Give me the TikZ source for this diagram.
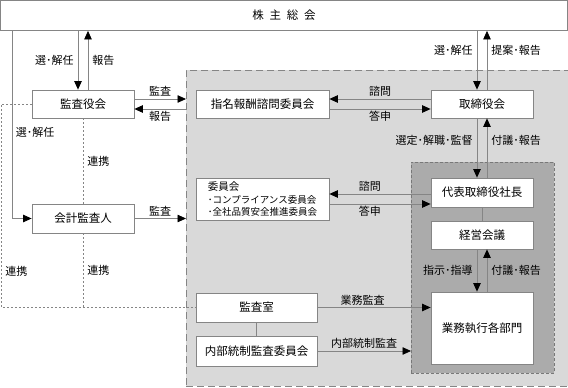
\documentclass[tikz,border=0pt]{standalone}
\usepackage{fontspec}
\setmainfont{Noto Sans CJK JP}
\usetikzlibrary{arrows.meta,positioning}
\definecolor{boxline}{HTML}{858585}
\definecolor{panelgray}{HTML}{D9D9D9}
\definecolor{execgray}{HTML}{ABABAB}
\tikzset{
  org box/.style={draw=boxline,fill=white,line width=.8pt,inner sep=1pt,font=\fontsize{11.5}{13}\selectfont},
  org line/.style={draw=boxline,line width=.8pt},
  org arrow/.style={org line,-{Triangle[length=8.5pt,width=7.5pt,color=black]}},
  org link/.style={draw=boxline,line width=.6pt,dash pattern=on 2pt off 2pt},
  org label/.style={font=\fontsize{11}{12}\selectfont,inner sep=1pt},
  panel/.style={draw=boxline,line width=.8pt,dash pattern=on 7pt off 4pt},
  subpanel/.style={draw=boxline!90!black,line width=.7pt,dash pattern=on 3pt off 2pt}
}

\begin{document}
\begin{tikzpicture}[x=1pt,y=-1pt,line cap=butt,line join=miter]
  \useasboundingbox (0,0) rectangle (568,388);

  % shaded areas
  \node[panel,fill=panelgray,anchor=north west,minimum width=392,minimum height=316] (governance) at (186,70) {};
  \node[subpanel,fill=execgray,anchor=north west,minimum width=143,minimum height=211] (executive) at (411,162) {};

  % boxes
  \node[org box,minimum width=567,minimum height=30] (meeting)     at (284,15.5)  {株\enspace 主\enspace 総\enspace 会};
  \node[org box,minimum width=102,minimum height=28] (auditboard)  at (83,104)    {監査役会};
  \node[org box,minimum width=102,minimum height=29] (accountant)  at (83,218.5)  {会計監査人};
  \node[org box,minimum width=133,minimum height=28] (nomcomm)     at (262.5,104) {指名報酬諮問委員会};
  \node[org box,minimum width=133,minimum height=42,align=left,font=\fontsize{9.5}{12.5}\selectfont]
                                                     (committees)  at (262.5,199)
        {{\fontsize{10.5}{12.5}\selectfont 委員会}\\･コンプライアンス委員会\\･全社品質安全推進委員会};
  \node[org box,minimum width=102,minimum height=28] (directors)   at (482,104)   {取締役会};
  \node[org box,minimum width=102,minimum height=29] (president)   at (482,192.5) {代表取締役社長};
  \node[org box,minimum width=102,minimum height=28] (mgmtmtg)     at (482,235)   {経営会議};
  \node[org box,minimum width=102,minimum height=72] (divisions)   at (482,328)   {業務執行各部門};
  \node[org box,minimum width=121,minimum height=29] (auditoffice) at (256.5,307.5) {監査室};
  \node[org box,minimum width=121,minimum height=30] (icaudit)     at (256.5,351) {内部統制監査委員会};

  \coordinate (edge) at (1,0);

  % shareholders' meeting
  \draw[org arrow] ([xshift=-5]auditboard.north |- meeting.south) -- ([xshift=-5]auditboard.north)
        node[org label,midway,left=3pt] {選･解任};
  \draw[org arrow] ([xshift=5]auditboard.north) -- ([xshift=5]auditboard.north |- meeting.south)
        node[org label,midway,right=3pt] {報告};
  \draw[org arrow] ([xshift=-5]directors.north |- meeting.south) -- ([xshift=-5]directors.north)
        node[org label,pos=.33,left=3pt] {選･解任};
  \draw[org arrow] ([xshift=5]directors.north) -- ([xshift=5]directors.north |- meeting.south)
        node[org label,pos=.67,right=3pt] {提案･報告};
  \draw[org arrow] ([xshift=-19]accountant.west |- meeting.south) |- (accountant.west)
        node[org label,pos=.27,right=2pt] {選･解任};

  % auditors
  \draw[org arrow] ([yshift=5]auditboard.east) -- ([yshift=5]auditboard.east -| governance.west)
        node[org label,midway,above=1pt] {監査};
  \draw[org arrow] ([yshift=-5]auditboard.east -| governance.west) -- ([yshift=-5]auditboard.east)
        node[org label,midway,below=1pt] {報告};
  \draw[org arrow] (accountant.east) -- (accountant.east -| governance.west)
        node[org label,midway,above=1pt] {監査};

  % board
  \draw[org arrow] ([yshift=5]directors.west) -- ([yshift=5]nomcomm.east)
        node[org label,midway,above=1pt] {諮問};
  \draw[org arrow] ([yshift=-5]nomcomm.east) -- ([yshift=-5]directors.west)
        node[org label,midway,below=1pt] {答申};
  \draw[org arrow] ([xshift=-5]directors.south) -- ([xshift=-5]president.north)
        node[org label,pos=.37,left=3pt] {選定･解職･監督};
  \draw[org arrow] ([xshift=5]president.north) -- ([xshift=5]directors.south)
        node[org label,pos=.63,right=3pt] {付議･報告};

  % president
  \draw[org arrow] ([yshift=5]committees.east -| president.west) -- ([yshift=5]committees.east)
        node[org label,pos=.6,above=1pt] {諮問};
  \draw[org arrow] ([yshift=-5]committees.east) -- ([yshift=-5]committees.east -| president.west)
        node[org label,pos=.4,below=1pt] {答申};
  \draw[org line] (president) -- (mgmtmtg);
  \draw[org arrow] ([xshift=-5]mgmtmtg.south) -- ([xshift=-5]divisions.north)
        node[org label,midway,left=3pt] {指示･指導};
  \draw[org arrow] ([xshift=5]divisions.north) -- ([xshift=5]mgmtmtg.south)
        node[org label,midway,right=3pt] {付議･報告};

  % internal audit
  \draw[org line] (auditoffice) -- (icaudit);
  \draw[org arrow] (auditoffice.east) -- (auditoffice.east -| divisions.west)
        node[org label,pos=.4,above=1pt] {業務監査};
  \draw[org arrow] (icaudit.east) -- (icaudit.east -| executive.west)
        node[org label,midway,above=1pt] {内部統制監査};

  % cooperation
  \draw[org link] (auditboard.west) -- (auditboard.west -| edge) |- (auditoffice.west)
        node[org label,pos=.41,right=3pt] {連携};
  \draw[org link] (auditboard.south) -- (accountant.north)
        node[org label,midway,right=3pt] {連携};
  \draw[org link] (accountant.south) -- (accountant.south |- auditoffice.west)
        node[org label,midway,right=3pt] {連携};
\end{tikzpicture}
\end{document}
